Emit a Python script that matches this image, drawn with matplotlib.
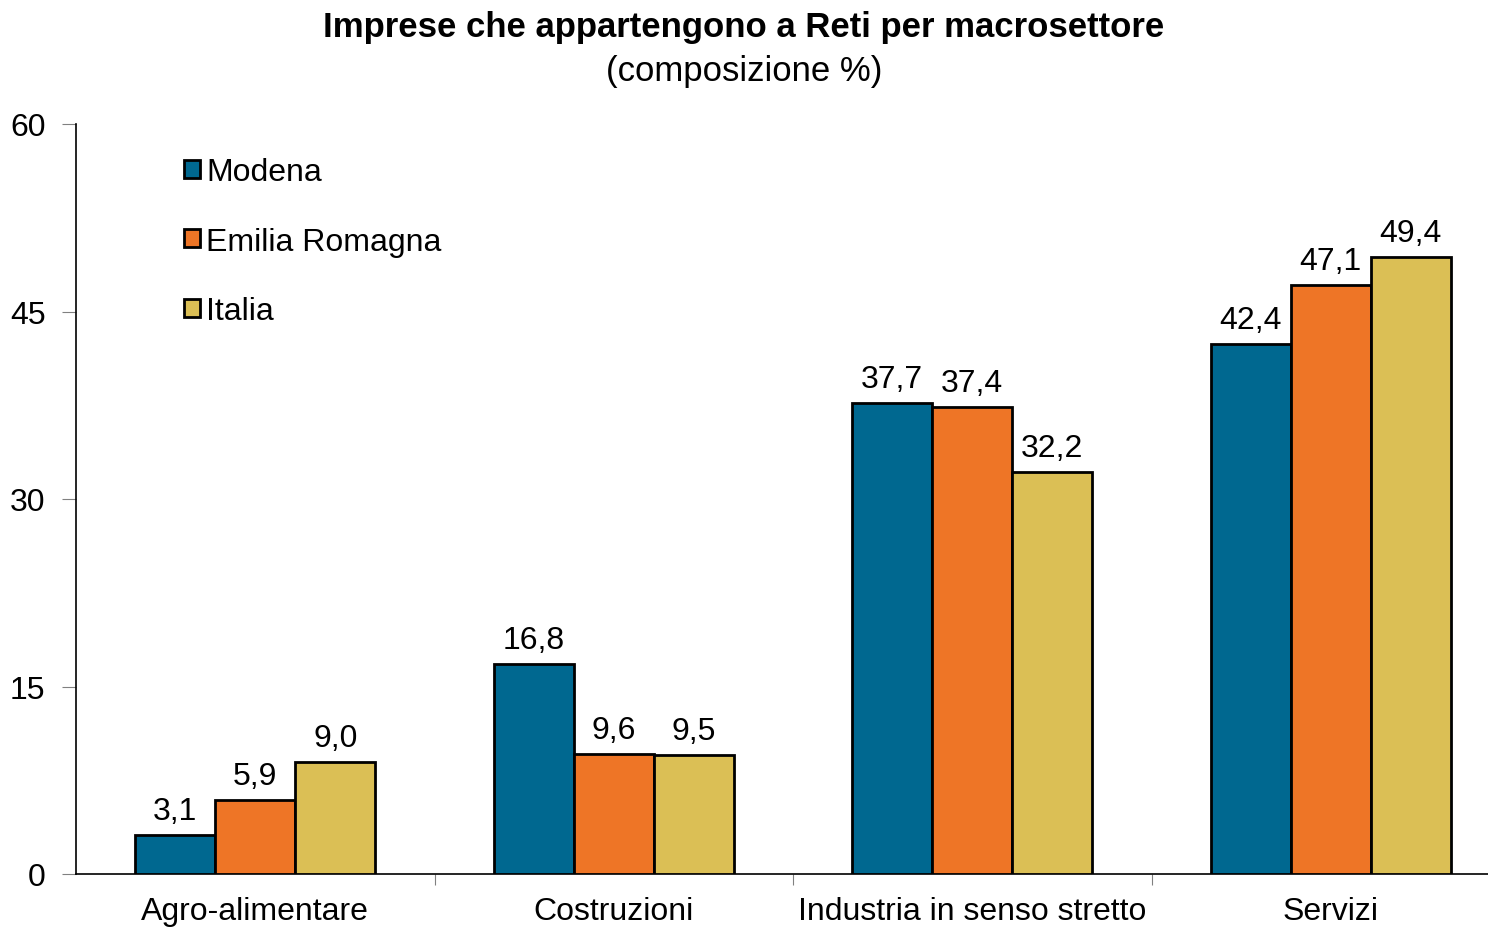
import numpy as np
import matplotlib
matplotlib.use('Agg')
import matplotlib.pyplot as plt
from matplotlib.patches import Patch

plt.rcParams['font.family'] = ['Liberation Sans', 'DejaVu Sans']

# dati
categorie = ['Agro-alimentare', 'Costruzioni', 'Industria in senso stretto', 'Servizi']
serie = ['Modena', 'Emilia Romagna', 'Italia']
modena = [3.1, 16.8, 37.7, 42.4]
emilia = [5.9, 9.6, 37.4, 47.1]
italia = [9.0, 9.5, 32.2, 49.4]
colori = ['#006890', '#EE7526', '#DBBF55']

fig = plt.figure(figsize=(14.88, 9.29), dpi=100)
ax = fig.add_axes([76/1488, 54/929, 1434/1488, 750/929])

x = np.arange(len(categorie))
w = 80/358.5
for i, (vals, col) in enumerate(zip([modena, emilia, italia], colori)):
    pos = x + (i - 1) * w
    ax.bar(pos, vals, width=w, color=col, edgecolor='black', linewidth=2, zorder=3)
    for p, v in zip(pos, vals):
        ax.text(p, v + 0.7, f'{v:.1f}'.replace('.', ','), ha='center', va='bottom',
                fontsize=23)

ax.set_xlim(-0.5, 3.5)
ax.set_ylim(0, 60)
ax.set_yticks([0, 15, 30, 45, 60])
ax.tick_params(axis='y', labelsize=23, length=10, color='#808080', pad=12)
ax.set_xticks(x + 0.5, minor=False)
ax.set_xticklabels([])
ax.set_xticks(x, minor=True)
ax.set_xticklabels(categorie, minor=True)
ax.tick_params(axis='x', which='major', length=8, color='#808080', direction='out')
ax.tick_params(axis='x', which='minor', length=0, labelsize=23, pad=16)
for s in ['top', 'right']:
    ax.spines[s].set_visible(False)
ax.spines['left'].set_linewidth(1.2)
ax.spines['bottom'].set_linewidth(1.2)

handles = [Patch(facecolor=c, edgecolor='black', linewidth=2) for c in colori]
ax.legend(handles, serie, loc='upper left', bbox_to_anchor=(0.0665, 0.973), frameon=False,
          fontsize=23, handlelength=0.5, handleheight=0.5, handletextpad=0.2,
          labelspacing=1.24, borderaxespad=0)

fig.text(0.5, 1 - 28/929, 'Imprese che appartengono a Reti per macrosettore', ha='center',
         va='center', fontsize=25, fontweight='bold')
fig.text(0.5, 1 - 71/929, '(composizione %)', ha='center', va='center', fontsize=25)

fig.savefig('out.png', dpi=100)
